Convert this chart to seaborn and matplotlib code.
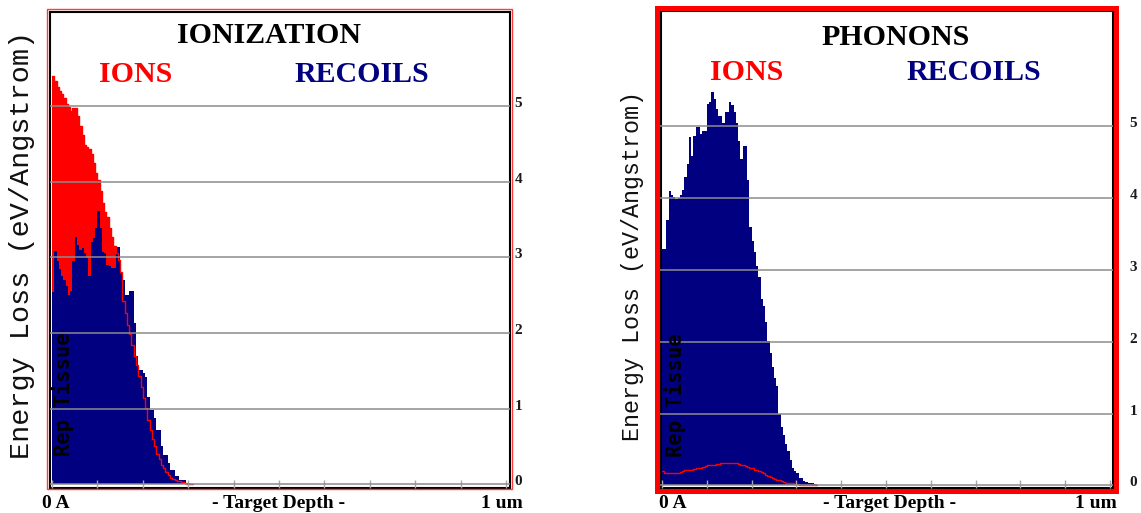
import numpy as np
import pandas as pd
import matplotlib
matplotlib.use('Agg')
import matplotlib.pyplot as plt
import matplotlib.transforms as mtransforms
from matplotlib.patches import Rectangle
import seaborn as sns

# SRIM style energy loss histograms, depth bins of 50 Angstrom
BIN_A = 50

# ionization panel (eV/Angstrom)
ioniz_ions = [5.40, 5.33, 5.25, 5.20, 5.15, 5.10, 5.03, 4.98, 4.93, 4.97,
              4.97, 4.86, 4.74, 4.62, 4.48, 4.46, 4.43, 4.36, 4.25, 4.11,
              4.02, 3.88, 3.72, 3.60, 3.53, 3.38, 3.27, 3.15, 3.06, 2.96,
              2.80, 2.42, 2.26, 2.10, 1.98, 1.84, 1.70, 1.57, 1.43, 1.29,
              1.14, 1.01, 0.85, 0.72, 0.60, 0.50, 0.40, 0.33, 0.26, 0.21,
              0.16, 0.12, 0.09, 0.07, 0.06, 0.05, 0.04, 0.03, 0.02, 0.01,
              0.0, 0.0]
ioniz_recoils = [2.54, 3.08, 2.95, 2.85, 2.75, 2.70, 2.62, 2.50, 2.55, 2.95,
                 3.27, 3.16, 3.09, 3.12, 3.05, 2.99, 2.75, 3.20, 3.25, 3.38,
                 3.61, 3.38, 3.07, 3.05, 2.90, 2.88, 2.86, 2.86, 3.14, 3.14,
                 2.81, 2.70, 2.50, 2.50, 2.56, 2.56, 2.13, 1.69, 1.51, 1.51,
                 1.47, 1.42, 1.16, 0.98, 0.98, 0.88, 0.72, 0.72, 0.50, 0.39,
                 0.39, 0.28, 0.19, 0.19, 0.11, 0.11, 0.06, 0.06, 0.06, 0.02,
                 0.02, 0.01]

# phonons panel (eV/Angstrom)
phon_ions = [0.20, 0.18, 0.17, 0.17, 0.17, 0.17, 0.18, 0.18, 0.19, 0.20,
             0.21, 0.21, 0.22, 0.22, 0.23, 0.24, 0.25, 0.25, 0.26, 0.27,
             0.28, 0.28, 0.29, 0.29, 0.30, 0.30, 0.31, 0.31, 0.31, 0.32,
             0.32, 0.32, 0.31, 0.31, 0.30, 0.29, 0.28, 0.27, 0.26, 0.25,
             0.24, 0.22, 0.21, 0.20, 0.19, 0.17, 0.15, 0.13, 0.12, 0.10,
             0.09, 0.08, 0.07, 0.06, 0.05, 0.04, 0.04, 0.03, 0.03, 0.02,
             0.02, 0.01, 0.0, 0.0, 0.0, 0.0, 0.0, 0.0, 0.0]
phon_recoils = [3.29, 3.29, 3.69, 4.10, 4.05, 4.01, 3.99, 4.00, 4.04, 4.11,
                4.30, 4.48, 4.85, 4.59, 4.87, 4.99, 4.99, 4.90, 4.94, 4.94,
                5.31, 5.34, 5.48, 5.38, 5.24, 5.15, 5.15, 5.04, 5.20, 5.20,
                5.34, 5.30, 5.20, 5.05, 4.80, 4.55, 4.73, 4.73, 4.25, 3.60,
                3.40, 3.25, 3.05, 2.90, 2.60, 2.50, 2.27, 2.01, 1.85, 1.65,
                1.50, 1.39, 1.00, 0.82, 0.70, 0.58, 0.48, 0.35, 0.25, 0.20,
                0.18, 0.11, 0.10, 0.06, 0.05, 0.04, 0.03, 0.03, 0.02]

Y_TICKS = [0, 1, 2, 3, 4, 5]
X_TICKS = list(range(0, 10001, 1000))   # 0 A .. 1 um

RED = '#ff0000'
NAVY = '#000080'
GRID = '#8c8c8c'

sns.set_style('white')
plt.rcParams['font.family'] = ['Liberation Serif', 'DejaVu Sans']

W, H = 1141, 513
fig = plt.figure(figsize=(W / 100, H / 100), dpi=100)


def px_box(l, t, r, b):
    return [l / W, 1 - b / H, (r - l) / W, (b - t) / H]


def px_text(x, y, s, **kw):
    fig.text(x / W, 1 - y / H, s, **kw)


def draw_panel(ax, ions, recoils, xlim, ylim, spine_w, pad):
    n = len(ions)
    df = pd.DataFrame({'depth': np.arange(n) * BIN_A + BIN_A / 2,
                       'ions': ions, 'recoils': recoils})
    hist_kw = dict(data=df, x='depth', binwidth=BIN_A, binrange=(0, n * BIN_A),
                   element='step', ax=ax)
    sns.histplot(weights='ions', fill=True, color=RED, alpha=1, linewidth=0, **hist_kw)
    sns.histplot(weights='recoils', fill=True, color=NAVY, alpha=1, linewidth=0, **hist_kw)
    sns.histplot(weights='ions', fill=False, color=RED, linewidth=1.0, **hist_kw)
    ax.set_xlabel('')
    ax.set_ylabel('')
    ax.set_xlim(*xlim)
    ax.set_ylim(*ylim)

    ax.set_axisbelow(False)
    ax.grid(True, axis='y', color=GRID, lw=1.1)
    ax.grid(False, axis='x')

    ax.set_xticks(X_TICKS)
    ax.tick_params(axis='x', direction='in', length=6, width=1, color='#a8a8a8',
                   bottom=True, top=False, labelbottom=False)

    ax.yaxis.tick_right()
    ax.set_yticks(Y_TICKS, labels=[str(v) for v in Y_TICKS],
                  fontweight='bold', fontsize=11)
    ax.tick_params(axis='y', length=0, pad=pad, labelcolor='#1a1a1a')
    shift = mtransforms.ScaledTranslation(0, 4 / 100, fig.dpi_scale_trans)
    for lab in ax.get_yticklabels():
        lab.set_transform(lab.get_transform() + shift)

    for sp in ax.spines.values():
        sp.set_color('black')
        sp.set_linewidth(spine_w)
        sp.set_visible(True)


# left: ionization
ax1 = fig.add_axes(px_box(49.5, 11.5, 509.5, 487.5))
draw_panel(ax1, ioniz_ions, ioniz_recoils,
           (-55, 10077), (-0.042, 6.246), 1.5, 3.5)

# right: phonons
ax2 = fig.add_axes(px_box(659.5, 10, 1113, 487.5))
draw_panel(ax2, phon_ions, phon_recoils,
           (-56, 10067), (-0.028, 6.62), 2.2, 12)

# red outer frames
fig.add_artist(Rectangle((46.7 / W, 1 - 489.3 / H), (512.3 - 46.7) / W, (489.3 - 9) / H,
                         transform=fig.transFigure, fill=False, ec='#ff3b3b', lw=1.0))
fig.add_artist(Rectangle((656.5 / W, 1 - 490.5 / H), (1116 - 656.5) / W, (490.5 - 7.5) / H,
                         transform=fig.transFigure, fill=False, ec=RED, lw=3.6))

title_kw = dict(ha='center', va='baseline', fontweight='bold', fontsize=21.5)
px_text(268.7, 43.3, 'IONIZATION', color='black', **title_kw)
px_text(135.3, 82.5, 'IONS', color=RED, **title_kw)
px_text(362, 82.5, 'RECOILS', color=NAVY, **title_kw)
px_text(896, 45, 'PHONONS', color='black', **title_kw)
px_text(747, 79.5, 'IONS', color=RED, **title_kw)
px_text(974, 79.5, 'RECOILS', color=NAVY, **title_kw)

bottom_kw = dict(va='baseline', fontweight='bold', fontsize=14, color='black')
px_text(42, 508, '0 A', ha='left', **bottom_kw)
px_text(279, 508, '- Target Depth -', ha='center', **bottom_kw)
px_text(523, 508, '1 um', ha='right', **bottom_kw)
px_text(659, 508, '0 A', ha='left', **bottom_kw)
px_text(890, 508, '- Target Depth -', ha='center', **bottom_kw)
px_text(1117, 508, '1 um', ha='right', **bottom_kw)

ylab_kw = dict(ha='center', va='center', rotation=90, color='#111111',
               family=['Liberation Mono', 'DejaVu Sans Mono'])
px_text(22, 245, 'Energy Loss (eV/Angstrom)', fontsize=20.5, **ylab_kw)
px_text(633, 266, 'Energy Loss (eV/Angstrom)', fontsize=16.8, **ylab_kw)

rep_kw = dict(ha='center', va='center', rotation=90, color='black', fontsize=14.8,
              fontweight='bold', family=['DejaVu Sans Mono'])
px_text(63.3, 394, 'Rep Tissue', **rep_kw)
px_text(674.5, 395, 'Rep Tissue', **rep_kw)

fig.savefig('out.png', dpi=100, facecolor='white')
